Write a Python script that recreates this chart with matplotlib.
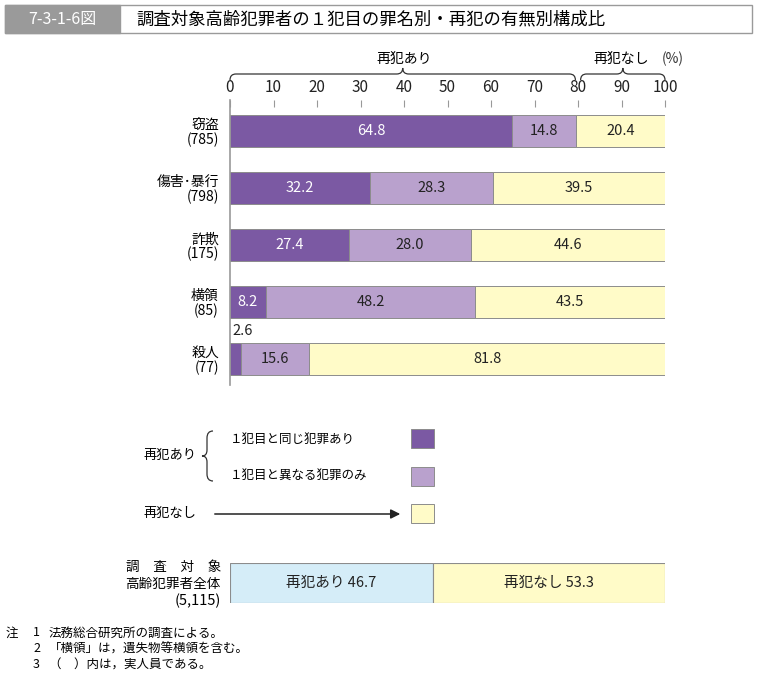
import numpy as np
import matplotlib
matplotlib.use("Agg")
import matplotlib.pyplot as plt
from matplotlib.path import Path
from matplotlib.patches import PathPatch, Rectangle

plt.rcParams['font.family'] = ['Noto Sans CJK JP', 'DejaVu Sans']

# data
crimes = ['窃盗', '傷害･暴行', '詐欺', '横領', '殺人']
counts = ['(785)', '(798)', '(175)', '(85)', '(77)']
same_crime = [64.8, 32.2, 27.4, 8.2, 2.6]
other_crime = [14.8, 28.3, 28.0, 48.2, 15.6]
no_reoffend = [20.4, 39.5, 44.6, 43.5, 81.8]
total_labels = ['再犯あり', '再犯なし']
total_values = [46.7, 53.3]
total_count = '(5,115)'
xticks = [0, 10, 20, 30, 40, 50, 60, 70, 80, 90, 100]

c_dark = '#7b59a3'
c_light = '#b9a1cd'
c_yellow = '#fffbc8'
c_blue = '#d5edf8'
edge = '#8c8c8c'

W, H = 758, 676
X0, X1 = 230, 665   # plot left / right in pixels
fig = plt.figure(figsize=(W / 100, H / 100), dpi=100)

# overlay in pixel coordinates for the furniture
bg = fig.add_axes([0, 0, 1, 1])
bg.set_xlim(0, W)
bg.set_ylim(H, 0)
bg.axis('off')


def px(v):
    # percent -> pixel x
    return X0 + v / 100 * (X1 - X0)


# header
bg.add_patch(Rectangle((5, 5), 747, 28, facecolor='white', edgecolor='#9a9a9a', lw=1))
bg.add_patch(Rectangle((5, 5), 115, 28, facecolor='#9a9a9a', edgecolor='#9a9a9a', lw=1))
bg.text(62, 19.5, '7-3-1-6図', color='white', fontsize=11.5, ha='center', va='center')
bg.text(136, 19.5, '調査対象高齢犯罪者の１犯目の罪名別・再犯の有無別構成比', fontsize=12.5,
        ha='left', va='center')

# main chart
ax = fig.add_axes([X0 / W, 1 - 385 / H, (X1 - X0) / W, 285 / H])
y = np.arange(len(crimes))
left = np.zeros(len(crimes))
for vals, col in [(same_crime, c_dark), (other_crime, c_light), (no_reoffend, c_yellow)]:
    ax.barh(y, vals, left=left, height=0.56, color=col, edgecolor=edge, lw=0.7)
    for i, v in enumerate(vals):
        if v < 5:
            ax.text(0.5, i - 0.5, f'{v:.1f}', ha='left', va='center', fontsize=10.5,
                    color='#222222')
        else:
            tc = 'white' if col == c_dark else '#222222'
            ax.text(left[i] + v / 2, i, f'{v:.1f}', ha='center', va='center', fontsize=10.5,
                    color=tc)
    left += np.array(vals)

ax.set_xlim(0, 100)
ax.set_ylim(len(crimes) - 0.544, -0.544)
ax.xaxis.tick_top()
ax.set_xticks(xticks)
ax.tick_params(axis='x', direction='in', length=5, color='#999999', pad=3, labelsize=11,
               labelcolor='#222222')
ax.set_yticks(y)
ax.set_yticklabels([f'{c}\n{n}' for c, n in zip(crimes, counts)], fontsize=10,
                   linespacing=1.05)
ax.tick_params(axis='y', length=0, pad=8)
for s in ['top', 'right', 'bottom']:
    ax.spines[s].set_visible(False)
ax.spines['left'].set_color('#999999')
ax.spines['left'].set_linewidth(1.2)


def hbrace(x0, x1, ylow, ymid, ytop, r):
    xm = (x0 + x1) / 2
    verts = [(x0, ylow), (x0, ymid), (x0 + r, ymid), (xm - r, ymid),
             (xm, ymid), (xm, ytop), (xm, ymid), (xm + r, ymid),
             (x1 - r, ymid), (x1, ymid), (x1, ylow)]
    codes = [Path.MOVETO, Path.CURVE3, Path.CURVE3, Path.LINETO,
             Path.CURVE3, Path.CURVE3, Path.CURVE3, Path.CURVE3,
             Path.LINETO, Path.CURVE3, Path.CURVE3]
    bg.add_patch(PathPatch(Path(verts, codes), facecolor='none', edgecolor='#333333', lw=0.9))


hbrace(px(0), px(79.4), 80, 74, 68, 6)
hbrace(px(80.6), px(100), 80, 74, 68, 6)
bg.text(px(40), 59, '再犯あり', fontsize=10, ha='center', va='center')
bg.text(px(90), 59, '再犯なし', fontsize=10, ha='center', va='center')
bg.text(673, 59, '(%)', fontsize=10, ha='center', va='center', color='#333333')

# legend
bg.text(143, 456, '再犯あり', fontsize=9.5, ha='left', va='center')
vb = [(213, 431), (207, 431), (207, 438), (207, 450), (207, 456), (202, 456),
      (207, 456), (207, 462), (207, 474), (207, 481), (213, 481)]
vc = [Path.MOVETO, Path.CURVE3, Path.CURVE3, Path.LINETO, Path.CURVE3, Path.CURVE3,
      Path.CURVE3, Path.CURVE3, Path.LINETO, Path.CURVE3, Path.CURVE3]
bg.add_patch(PathPatch(Path(vb, vc), facecolor='none', edgecolor='#333333', lw=0.9))
bg.text(230, 439, '１犯目と同じ犯罪あり', fontsize=9, ha='left', va='center')
bg.text(230, 476, '１犯目と異なる犯罪のみ', fontsize=9, ha='left', va='center')
bg.text(143, 514, '再犯なし', fontsize=9.5, ha='left', va='center')
bg.annotate('', xy=(403, 514), xytext=(212, 514),
            arrowprops=dict(arrowstyle='-|>', color='#222222', lw=1.1, mutation_scale=14))
for yy, col in [(429, c_dark), (467, c_light), (504, c_yellow)]:
    bg.add_patch(Rectangle((411, yy), 23, 19, facecolor=col, edgecolor=edge, lw=0.7))

# total bar
ax2 = fig.add_axes([X0 / W, 1 - 603 / H, (X1 - X0) / W, 40 / H])
lft = 0
for lab, v, col in zip(total_labels, total_values, [c_blue, c_yellow]):
    ax2.barh(0, v, left=lft, height=1, color=col, edgecolor=edge, lw=0.8)
    ax2.text(lft + v / 2, 0, f'{lab} {v}', ha='center', va='center', fontsize=10.5,
             color='#222222')
    lft += v
ax2.set_xlim(0, 100)
ax2.set_ylim(-0.5, 0.5)
ax2.axis('off')
bg.text(221, 567, '調　査　対　象', fontsize=9.8, ha='right', va='center')
bg.text(221, 584, '高齢犯罪者全体', fontsize=9.8, ha='right', va='center')
bg.text(221, 601, total_count, fontsize=10.5, ha='right', va='center')

# notes
notes = [('注', '1', '法務総合研究所の調査による。'),
         ('', '2', '「横領」は，遺失物等横領を含む。'),
         ('', '3', '（　）内は，実人員である。')]
for i, (a, b, c) in enumerate(notes):
    yy = 633 + i * 16
    bg.text(6, yy, a, fontsize=9, ha='left', va='center')
    bg.text(33, yy, b, fontsize=9, ha='left', va='center')
    bg.text(49, yy, c, fontsize=9, ha='left', va='center')

fig.savefig('out.png', dpi=100)
